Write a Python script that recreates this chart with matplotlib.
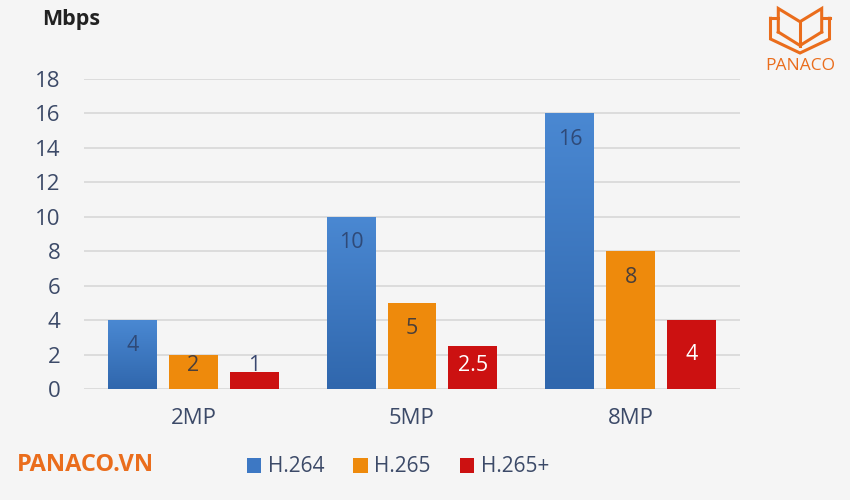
import matplotlib.pyplot as plt
import numpy as np
from matplotlib.colors import LinearSegmentedColormap

categories = ['2MP', '5MP', '8MP']
series_names = ['H.264', 'H.265', 'H.265+']
h264 = [4, 10, 16]
h265 = [2, 5, 8]
h265p = [1, 2.5, 4]

colors = ['#3d78c4', '#ee8a0c', '#cc1111']
label_colors = ['#2f4a78', '#4a3f3a', '#ffffff']
text_color = '#3c4a68'
orange = '#ea6d1c'

plt.rcParams['font.family'] = ['Open Sans', 'DejaVu Sans']

fig = plt.figure(figsize=(8.5, 5), dpi=100, facecolor='#f5f5f5')
ax = fig.add_axes([84 / 850, 1 - 389 / 500, 656 / 850, 310 / 500])
ax.set_facecolor('#f5f5f5')

x = np.arange(len(categories))
width = 0.224
offset = 0.278
blue_grad = LinearSegmentedColormap.from_list('bg', ['#3067ad', '#4a88d2'])

for i, vals in enumerate([h264, h265, h265p]):
    xs = x + (i - 1) * offset
    bars = ax.bar(xs, vals, width, color=colors[i], label=series_names[i], zorder=2)
    for b, v in zip(bars, vals):
        if i == 0:
            # soft vertical shading like the original
            grad = np.linspace(0, 1, 100).reshape(-1, 1)
            im = ax.imshow(grad, cmap=blue_grad, aspect='auto', origin='lower',
                           extent=[b.get_x(), b.get_x() + width, 0, v], zorder=2.5)
            im.set_clip_path(b)
        if i == 2:
            ly = max(v / 2, 1.35)
            lc = label_colors[2] if v >= 2 else '#3a4870'
        else:
            ly = max(v - 1.5, 1.35)
            lc = label_colors[i]
        ax.text(b.get_x() + width / 2, ly, '%g' % v, ha='center', va='center',
                fontsize=15.5, color=lc, zorder=3)

ax.set_xlim(-0.5, 2.5)
ax.set_ylim(0, 18)
ax.set_yticks(range(0, 19, 2))
ax.set_xticks(x)
ax.set_xticklabels(categories)
ax.yaxis.grid(True, color='#d8d8d8', linewidth=1.2, zorder=0)
ax.set_axisbelow(True)
for s in ax.spines.values():
    s.set_visible(False)
ax.tick_params(axis='y', length=0, pad=17, labelsize=16, labelcolor=text_color)
ax.tick_params(axis='x', length=0, pad=14, labelsize=16, labelcolor=text_color)

fig.text(42 / 850, 1 - 20 / 500, 'Mbps', fontsize=15.5, fontweight='bold',
         color='#222222', va='center', ha='left')
fig.text(17 / 850, 1 - 465 / 500, 'PANACO.VN', fontsize=17, fontweight='bold',
         color=orange, va='center', ha='left')

fig.legend(loc='center', bbox_to_anchor=(398 / 850, 1 - 467 / 500), ncol=3,
           frameon=False, handlelength=0.7, handleheight=0.7, handletextpad=0.3,
           columnspacing=1.4, prop={'size': 15}, labelcolor=text_color)

# logo
def px(pts):
    return [p[0] / 850 for p in pts], [1 - p[1] / 500 for p in pts]

logo_lines = [
    [(770.5, 18.3), (770.5, 39), (800, 53), (829.5, 39), (829.5, 18.3)],
    [(770.5, 18.3), (778.3, 18.3)],
    [(829.5, 18.3), (821.7, 18.3)],
    [(778.3, 32), (778.3, 8.5), (800, 21.7), (821.7, 8.5), (821.7, 32)],
    [(778.3, 32), (800, 45.5), (821.7, 32)],
    [(800, 21.7), (800, 45.5)],
]
for ln in logo_lines:
    lx, ly = px(ln)
    fig.add_artist(plt.Line2D(lx, ly, transform=fig.transFigure, color=orange,
                              linewidth=2.2, solid_joinstyle='miter'))
fig.text(800 / 850, 1 - 66 / 500, 'PANACO', fontsize=12.5, color=orange,
         ha='center', va='center')

fig.savefig('out.png', dpi=100, facecolor=fig.get_facecolor())
